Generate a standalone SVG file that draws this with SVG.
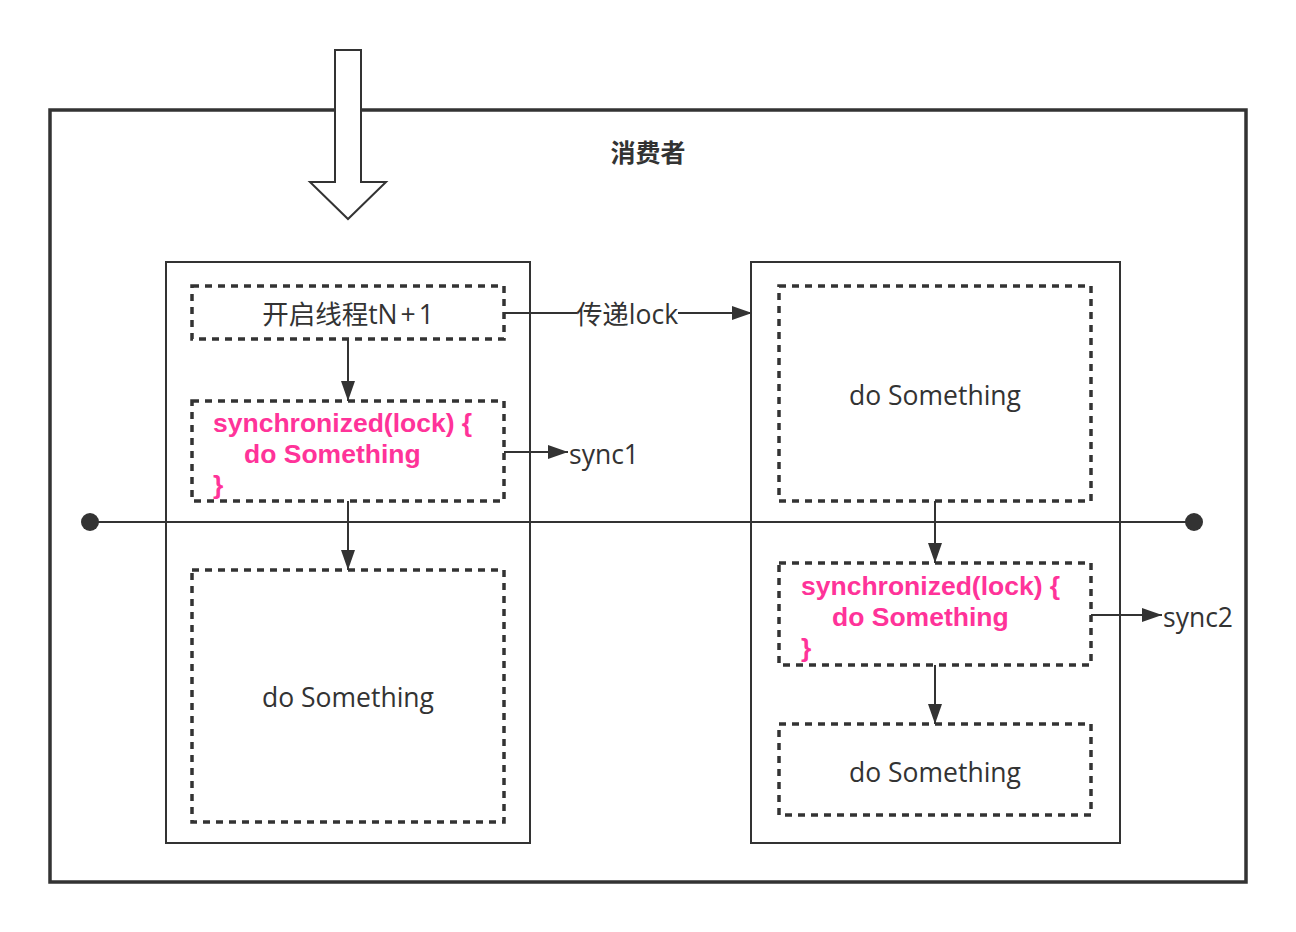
<svg xmlns="http://www.w3.org/2000/svg" width="1296" height="932" viewBox="0 0 1296 932">
<defs>
<style>
.frame{fill:#fff;stroke:#333;stroke-width:3.5}
.panel{fill:#fff;stroke:#333;stroke-width:2}
.dash{fill:#fff;stroke:#333;stroke-width:3.5;stroke-dasharray:7 6}
.line{fill:none;stroke:#333;stroke-width:2}
.t{font-family:"Open Sans","Noto Sans CJK SC",sans-serif;font-size:26.5px;fill:#333}
.p{font-family:"Liberation Sans","Noto Sans CJK SC",sans-serif;font-size:26.5px;font-weight:bold;fill:#ff3399}
.title{font-family:"Noto Sans CJK SC",sans-serif;font-size:25px;font-weight:bold;fill:#333}
</style>
<marker id="ah" viewBox="0 0 20 14" refX="20" refY="7" markerWidth="20" markerHeight="14" markerUnits="userSpaceOnUse" orient="auto">
<path d="M0,0 L20,7 L0,14 Z" fill="#333"/>
</marker>
</defs>
<rect width="1296" height="932" fill="#fff"/>
<g id="frame">
<rect class="frame" x="50" y="110" width="1196" height="772"/>
<text class="title" x="648" y="162" text-anchor="middle">消费者</text>
</g>
<g id="left-panel"><rect class="panel" x="166" y="262" width="364" height="581"/></g>
<g id="right-panel"><rect class="panel" x="751" y="262" width="369" height="581"/></g>
<g id="timeline">
<line class="line" x1="90" y1="522" x2="1194" y2="522"/>
<circle cx="90" cy="522" r="9" fill="#333"/>
<circle cx="1194" cy="522" r="9" fill="#333"/>
</g>
<g id="entry-arrow">
<path d="M335,50 H361 V182 H386 L348,219 L310,182 H335 Z" fill="#fff" stroke="#333" stroke-width="2"/>
</g>
<g id="l1">
<rect class="dash" x="192" y="286" width="312" height="53"/>
<text class="t" x="348" y="324" text-anchor="middle">开启线程tN<tspan dx="3">+</tspan><tspan dx="3">1</tspan></text>
</g>
<g id="l2">
<rect class="dash" x="192" y="401" width="312" height="100"/>
<text class="p"><tspan x="213" y="432">synchronized(lock) {</tspan><tspan x="244" y="463">do Something</tspan><tspan x="213" y="494">}</tspan></text>
</g>
<g id="l3">
<rect class="dash" x="192" y="570" width="312" height="252"/>
<text class="t" x="348" y="707" text-anchor="middle">do Something</text>
</g>
<g id="r1">
<rect class="dash" x="779" y="286" width="312" height="215"/>
<text class="t" x="935" y="405" text-anchor="middle">do Something</text>
</g>
<g id="r2">
<rect class="dash" x="779" y="563" width="312" height="102"/>
<text class="p"><tspan x="801" y="595">synchronized(lock) {</tspan><tspan x="832" y="626">do Something</tspan><tspan x="801" y="657">}</tspan></text>
</g>
<g id="r3">
<rect class="dash" x="779" y="724" width="312" height="91"/>
<text class="t" x="935" y="782" text-anchor="middle">do Something</text>
</g>
<g id="connectors">
<line class="line" x1="504" y1="313" x2="752" y2="313" marker-end="url(#ah)"/>
<rect x="577" y="297" width="101" height="32" fill="#fff"/>
<text class="t" x="627" y="324" text-anchor="middle">传递lock</text>
<line class="line" x1="348" y1="339" x2="348" y2="401" marker-end="url(#ah)"/>
<line class="line" x1="348" y1="501" x2="348" y2="570" marker-end="url(#ah)"/>
<line class="line" x1="935" y1="501" x2="935" y2="563" marker-end="url(#ah)"/>
<line class="line" x1="935" y1="665" x2="935" y2="724" marker-end="url(#ah)"/>
<line class="line" x1="504" y1="452" x2="568" y2="452" marker-end="url(#ah)"/>
<text class="t" x="569" y="464">sync1</text>
<line class="line" x1="1091" y1="615" x2="1162" y2="615" marker-end="url(#ah)"/>
<text class="t" x="1163" y="627">sync2</text>
</g>
</svg>
